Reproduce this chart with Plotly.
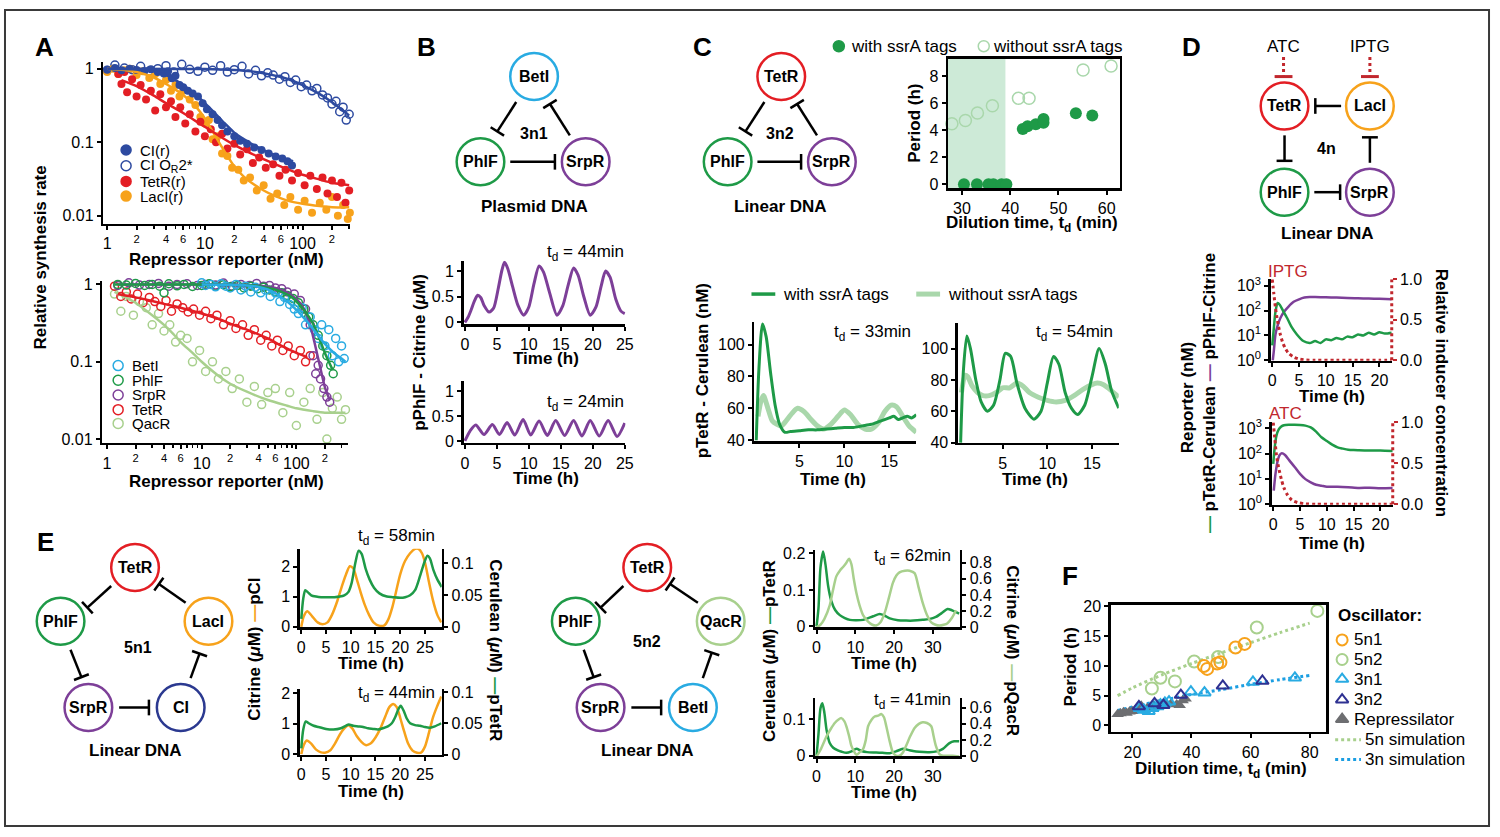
import math
import plotly.graph_objects as go

W, H = 1500, 837
FONT = "Liberation Sans, Arial, Helvetica, sans-serif"

RED = "#e31e24"; GREEN = "#1e9a47"; PURPLE = "#7d3f98"; LBLUE = "#29abe2"
ORANGE = "#f7a21b"; DBLUE = "#2d4aa0"; CINODE = "#2b3990"; LGREEN = "#a8d08d"
PALE = "#a9d7ab"; DRED = "#c1272d"; GRAY = "#6d6e71"; NAVY = "#2e3192"; SIMBLUE = "#1b9ee2"

# ---------------- Panel A data ----------------
a1_ci_x = [1.0, 1.2, 1.4, 1.7, 2.0, 2.4, 2.8, 3.3, 3.8, 4.2, 4.6, 5.0, 5.5, 6.0, 6.7, 7.5, 8.5, 9.5, 10.5, 12, 13.5, 15, 17, 20, 23, 27, 32, 38, 45, 53, 62, 70, 78]
a1_ci_y = [0.97, 1.02, 0.95, 1.0, 0.96, 0.93, 0.98, 0.9, 0.86, 0.92, 0.74, 0.8, 0.6, 0.56, 0.5, 0.46, 0.42, 0.34, 0.28, 0.24, 0.2, 0.17, 0.14, 0.12, 0.105, 0.095, 0.085, 0.078, 0.07, 0.064, 0.06, 0.055, 0.048]
a1_ci_fit_x = [1, 2, 3, 4, 5, 6, 8, 10, 13, 16, 20, 25, 30, 40, 50, 60, 80]
a1_ci_fit_y = [1.0, 0.98, 0.92, 0.82, 0.7, 0.6, 0.45, 0.34, 0.24, 0.18, 0.135, 0.11, 0.095, 0.078, 0.068, 0.062, 0.055]

a1_or_x = [1.0, 1.2, 1.5, 1.8, 2.2, 2.7, 3.3, 4.0, 4.8, 5.8, 7.0, 8.5, 10, 12, 14.5, 17, 20, 24, 28, 33, 38, 44, 50, 58, 66, 75, 85, 97, 110, 125, 140, 160, 180, 200, 220, 240, 260, 280, 300]
a1_or_y = [0.95, 1.12, 1.02, 0.97, 1.08, 0.93, 1.0, 1.1, 0.9, 1.15, 0.98, 0.92, 1.05, 0.95, 1.1, 0.9, 0.97, 1.08, 0.85, 0.95, 0.8, 0.88, 0.82, 0.72, 0.78, 0.65, 0.7, 0.57, 0.6, 0.5, 0.54, 0.44, 0.4, 0.33, 0.36, 0.26, 0.3, 0.2, 0.24]
a1_or_fit_x = [1, 10, 20, 30, 40, 60, 80, 100, 150, 200, 250, 300]
a1_or_fit_y = [1.0, 0.99, 0.96, 0.92, 0.87, 0.77, 0.68, 0.6, 0.45, 0.35, 0.28, 0.23]

a1_tet_x = [1.3, 1.4, 1.5, 1.6, 1.8, 2.0, 2.2, 2.5, 2.8, 3.1, 3.5, 4.0, 4.5, 5.0, 5.6, 6.3, 7.0, 8.0, 9.0, 10, 11.5, 13, 15, 17, 20, 23, 27, 31, 36, 42, 50, 58, 67, 78, 90, 105, 120, 140, 160, 180, 200, 225, 250, 275, 300]
a1_tet_y = [0.85, 0.62, 0.9, 0.48, 0.72, 0.42, 0.6, 0.38, 0.5, 0.27, 0.45, 0.3, 0.36, 0.22, 0.3, 0.18, 0.24, 0.14, 0.19, 0.12, 0.15, 0.1, 0.13, 0.082, 0.095, 0.068, 0.08, 0.052, 0.062, 0.045, 0.05, 0.035, 0.042, 0.03, 0.038, 0.026, 0.035, 0.023, 0.033, 0.02, 0.03, 0.018, 0.028, 0.015, 0.022]
a1_tet_fit_x = [1.4, 2, 3, 4, 6, 8, 11, 15, 20, 30, 45, 70, 100, 150, 200, 300]
a1_tet_fit_y = [0.7, 0.58, 0.43, 0.34, 0.25, 0.195, 0.15, 0.115, 0.092, 0.07, 0.055, 0.043, 0.036, 0.031, 0.028, 0.026]

a1_lac_x = [1.0, 1.15, 1.3, 1.5, 1.7, 2.0, 2.3, 2.7, 3.1, 3.5, 4.0, 4.5, 5.0, 5.5, 6.0, 7.0, 8.0, 9.0, 10, 11, 12, 13.5, 15, 17, 19, 22, 25, 29, 34, 40, 47, 55, 65, 75, 90, 105, 125, 150, 175, 200, 230, 260, 290, 305]
a1_lac_y = [0.9, 1.0, 0.85, 0.95, 1.0, 0.82, 0.92, 0.75, 0.85, 0.62, 0.7, 0.5, 0.6, 0.42, 0.5, 0.38, 0.32, 0.22, 0.18, 0.2, 0.11, 0.12, 0.07, 0.065, 0.045, 0.042, 0.03, 0.033, 0.022, 0.026, 0.017, 0.02, 0.014, 0.018, 0.012, 0.016, 0.011, 0.015, 0.012, 0.018, 0.01, 0.014, 0.009, 0.011]
a1_lac_fit_x = [1, 1.5, 2, 3, 4, 5, 6, 8, 10, 12, 15, 20, 25, 30, 40, 50, 70, 100, 150, 200, 300]
a1_lac_fit_y = [1.0, 0.96, 0.9, 0.76, 0.62, 0.52, 0.44, 0.31, 0.21, 0.14, 0.085, 0.047, 0.034, 0.028, 0.022, 0.019, 0.016, 0.0145, 0.0135, 0.013, 0.013]

a2_bet_x = [10, 11, 12.5, 14, 16, 18, 20, 23, 26, 29, 33, 37, 42, 47, 53, 60, 67, 75, 85, 95, 105, 115, 125, 140, 155, 170, 185, 200, 220, 240, 260, 280, 300, 320]
a2_bet_y = [1.05, 0.97, 1.0, 0.93, 1.02, 0.95, 0.9, 1.0, 0.85, 0.95, 0.8, 0.92, 0.78, 0.85, 0.7, 0.78, 0.6, 0.68, 0.55, 0.48, 0.42, 0.5, 0.3, 0.38, 0.26, 0.2, 0.3, 0.16, 0.26, 0.12, 0.2, 0.1, 0.16, 0.11]
a2_bet_fit_x = [10, 20, 30, 40, 50, 60, 80, 100, 130, 160, 200, 250, 300, 330]
a2_bet_fit_y = [1, 0.99, 0.97, 0.93, 0.86, 0.77, 0.6, 0.47, 0.33, 0.24, 0.17, 0.13, 0.11, 0.1]

a2_phl_x = [1.3, 1.6, 2.0, 2.5, 3.0, 3.6, 4.0, 4.5, 5.5, 6.5, 8, 10, 12, 14, 17, 20, 24, 28, 33, 39, 45, 52, 60, 70, 80, 92, 105, 120, 135, 150, 170, 190, 210, 230, 245]
a2_phl_y = [1.0, 0.98, 1.03, 0.97, 1.0, 0.95, 0.78, 1.02, 0.96, 1.0, 0.94, 0.97, 1.02, 0.95, 0.99, 0.93, 0.97, 0.9, 0.95, 0.88, 0.92, 0.85, 0.8, 0.78, 0.72, 0.66, 0.58, 0.48, 0.38, 0.3, 0.22, 0.16, 0.12, 0.09, 0.07]
a2_phl_fit_x = [1.2, 10, 30, 40, 55, 70, 90, 105, 125, 150, 175, 200, 240]
a2_phl_fit_y = [1, 1, 0.98, 0.95, 0.88, 0.8, 0.68, 0.57, 0.44, 0.31, 0.2, 0.13, 0.08]

a2_srp_x = [1.3, 1.7, 2.2, 2.8, 3.5, 4.5, 5.5, 7, 9, 11, 14, 17, 21, 26, 32, 38, 45, 52, 60, 70, 80, 95, 110, 125, 140, 150, 160, 170, 180, 195, 210, 225]
a2_srp_y = [0.97, 1.05, 0.98, 1.0, 1.03, 0.95, 1.0, 1.02, 0.97, 1.0, 0.98, 1.04, 0.95, 1.0, 0.97, 1.03, 0.95, 0.97, 0.9, 0.88, 0.8, 0.75, 0.62, 0.48, 0.3, 0.12, 0.07, 0.09, 0.06, 0.045, 0.035, 0.03]
a2_srp_fit_x = [1.3, 10, 30, 45, 60, 75, 90, 110, 125, 140, 155, 170, 185, 200, 225]
a2_srp_fit_y = [1, 1, 0.98, 0.95, 0.9, 0.82, 0.72, 0.57, 0.44, 0.3, 0.18, 0.11, 0.07, 0.047, 0.032]

a2_tet_x = [1.2, 1.4, 1.6, 1.8, 2.1, 2.4, 2.8, 3.2, 3.7, 4.2, 4.8, 5.5, 6.3, 7.2, 8.2, 9.5, 11, 12.5, 14.5, 17, 20, 23, 27, 31, 36, 42, 48, 55, 63, 72, 82, 95, 110, 125, 140]
a2_tet_y = [0.95, 0.7, 0.8, 0.65, 0.75, 0.58, 0.68, 0.6, 0.52, 0.62, 0.45, 0.56, 0.5, 0.44, 0.48, 0.4, 0.45, 0.36, 0.4, 0.3, 0.34, 0.27, 0.3, 0.22, 0.26, 0.19, 0.22, 0.16, 0.19, 0.14, 0.16, 0.12, 0.14, 0.1, 0.12]
a2_tet_fit_x = [1.3, 2, 3, 4, 6, 10, 15, 20, 30, 50, 70, 100, 130]
a2_tet_fit_y = [0.75, 0.68, 0.61, 0.56, 0.5, 0.42, 0.36, 0.31, 0.26, 0.2, 0.16, 0.13, 0.115]

a2_qac_x = [1.2, 1.4, 1.6, 1.9, 2.2, 2.6, 3.0, 3.5, 4.0, 4.6, 5.3, 6.0, 7.0, 8.0, 9.5, 11, 13, 15, 18, 21, 25, 30, 36, 43, 50, 60, 72, 85, 100, 120, 140, 165, 190, 210, 240, 270, 300, 330]
a2_qac_y = [0.75, 0.45, 0.7, 0.4, 0.6, 0.5, 0.3, 0.42, 0.25, 0.3, 0.18, 0.22, 0.2, 0.1, 0.14, 0.075, 0.1, 0.06, 0.075, 0.045, 0.06, 0.03, 0.048, 0.028, 0.04, 0.045, 0.022, 0.04, 0.015, 0.03, 0.045, 0.018, 0.04, 0.01, 0.025, 0.035, 0.018, 0.024]
a2_qac_fit_x = [1.2, 1.5, 2, 3, 4, 5, 6, 8, 10, 15, 20, 30, 50, 80, 100, 150, 200, 300, 330]
a2_qac_fit_y = [0.8, 0.7, 0.58, 0.4, 0.3, 0.23, 0.18, 0.13, 0.1, 0.066, 0.052, 0.041, 0.032, 0.027, 0.025, 0.023, 0.022, 0.022, 0.022]

a_xtick_vals = [1, 2, 4, 6, 10, 20, 40, 60, 100, 200]
a_xtick_text = ["1", "<sup>2</sup>", "<sup>4</sup>", "<sup>6</sup>", "10", "<sup>2</sup>", "<sup>4</sup>", "<sup>6</sup>", "100", "<sup>2</sup>"]
a_minor_vals = [3, 5, 7, 8, 9, 30, 50, 70, 80, 90, 300]

# ---------------- Panel B data ----------------
b44_t = [0, 0.5, 1, 1.5, 2, 2.5, 3, 3.8, 4.5, 5.2, 5.8, 6.2, 6.7, 7.5, 8.3, 9.2, 10, 10.8, 11.6, 12.3, 13.2, 14.4, 15.3, 16.2, 17, 17.7, 18.6, 19.6, 20.5, 21.3, 22, 22.7, 23.6, 24.4, 25]
b44_v = [0, 0.1, 0.25, 0.42, 0.53, 0.48, 0.33, 0.2, 0.28, 0.65, 1.02, 1.17, 1.05, 0.68, 0.33, 0.14, 0.3, 0.75, 1.1, 0.98, 0.6, 0.14, 0.32, 0.75, 1.06, 0.92, 0.5, 0.14, 0.3, 0.7, 1.0, 0.88, 0.45, 0.22, 0.17]
b24_t = [0, 0.8, 1.7, 3.0, 4.3, 5.4, 6.6, 7.8, 9.1, 10.3, 11.6, 12.9, 14.2, 15.6, 17.0, 18.3, 19.6, 21.0, 22.4, 23.8, 25]
b24_v = [0, 0.2, 0.32, 0.13, 0.33, 0.13, 0.37, 0.12, 0.43, 0.12, 0.4, 0.11, 0.41, 0.11, 0.41, 0.1, 0.41, 0.1, 0.41, 0.09, 0.36]

# ---------------- Panel C data ----------------
c_with_td = [30.4, 33.1, 35.5, 36.5, 38.2, 39.2, 42.6, 43.6, 45.3, 46.9, 46.9, 53.6, 57.0]
c_with_per = [0, 0, 0, 0, 0, 0, 4.1, 4.3, 4.45, 4.56, 4.85, 5.26, 5.1]
c_wo_td = [27.9, 30.7, 33.2, 36.3, 41.7, 43.9, 55.1, 60.9]
c_wo_per = [4.49, 4.73, 5.29, 5.82, 6.38, 6.38, 8.48, 8.78]
c_no_osc_limit = 39

c33_with_t = [0.2, 0.5, 0.9, 1.3, 1.8, 2.3, 2.8, 3.4, 4, 5, 6, 7, 8, 9, 10, 11, 12, 13, 14, 15, 15.5, 16, 16.5, 17, 17.5, 18]
c33_with_v = [40, 85, 113, 105, 82, 62, 50, 45, 45.5, 46, 46.5, 46.5, 47, 47.5, 48, 48, 49, 50, 52, 54, 55, 53, 54, 55, 54, 56]
c33_wo_t = [0.4, 0.7, 1.0, 1.5, 2.0, 2.5, 3.0, 3.5, 4.2, 4.8, 5.5, 6.3, 7.0, 7.7, 8.5, 9.3, 10.0, 10.7, 11.5, 12.3, 13.0, 13.8, 14.5, 15.2, 15.8, 16.5, 17.2, 18]
c33_wo_v = [55, 64, 68, 60, 52, 50, 49, 52, 57, 60, 58, 53, 49, 47, 50, 55, 59, 56, 50, 47, 47, 51, 58, 62, 61, 55, 49, 45]
c54_with_t = [0.3, 0.6, 1.0, 1.4, 2.0, 2.6, 3.3, 4.0, 4.7, 5.3, 5.9, 6.6, 7.5, 8.5, 9.3, 10.0, 10.7, 11.3, 12.0, 12.7, 13.4, 14.2, 15.0, 15.8, 16.5, 17.2, 18]
c54_with_v = [40, 85, 108, 100, 80, 66, 60, 64, 80, 97, 95, 78, 62, 55, 60, 78, 95, 90, 72, 62, 58, 64, 82, 100, 90, 73, 62]
c54_wo_t = [0.4, 0.8, 1.1, 1.6, 2.2, 2.8, 3.5, 4.3, 5.0, 5.8, 6.6, 7.3, 8.0, 9.0, 10.0, 11.0, 12.0, 13.0, 14.0, 15.0, 15.6, 16.3, 17.0, 18]
c54_wo_v = [72, 83, 82, 76, 72, 70, 70, 72, 75, 75, 78, 76, 72, 69, 67, 66, 67, 70, 74, 77, 78, 77, 74, 69]

# ---------------- Panel D data ----------------
d_ip_pur_t = [0.1, 0.3, 0.6, 1.0, 1.5, 2.2, 3.0, 4.0, 5.0, 6.0, 7.0, 8, 10, 12, 14, 16, 18, 20, 22.3]
d_ip_pur_v = [1.0, 2.5, 11, 25, 49, 89, 141, 224, 282, 331, 347, 347, 339, 331, 316, 309, 302, 295, 282]
d_ip_grn_t = [0, 0.3, 0.6, 1.0, 1.4, 2.0, 2.8, 3.6, 4.6, 5.8, 7, 8, 9, 10, 11, 12, 13, 14, 15, 16, 17, 18, 19, 20, 21, 22.3]
d_ip_grn_v = [4, 20, 90, 200, 170, 100, 49, 22, 11, 6, 5, 6, 5, 7, 6.5, 8, 7, 9, 8.5, 11, 10, 13, 11, 13.5, 12, 13]
d_ip_ind_t = [0, 0.3, 0.6, 1.0, 1.5, 2.0, 2.5, 3.0, 4.0, 5.0, 6.0, 8, 12, 16, 20, 22.3]
d_ip_ind_v = [1.0, 0.82, 0.65, 0.48, 0.32, 0.21, 0.14, 0.09, 0.04, 0.015, 0.005, 0, 0, 0, 0, 0]
d_atc_grn_t = [0, 0.3, 0.6, 1.0, 1.5, 2, 3, 4, 5, 6, 7, 8, 9, 10, 11, 12, 13, 14, 15, 16, 18, 20, 22.3]
d_atc_grn_v = [40, 200, 520, 900, 1200, 1350, 1400, 1400, 1380, 1300, 1100, 750, 450, 320, 230, 180, 160, 145, 140, 138, 135, 135, 130]
d_atc_pur_t = [0.1, 0.4, 0.8, 1.2, 1.6, 2.2, 3, 4, 5, 6, 7, 8, 9, 10, 12, 14, 16, 18, 20, 22.3]
d_atc_pur_v = [3.5, 15, 50, 90, 105, 90, 55, 30, 16, 10, 7.5, 6, 5.5, 5, 5, 4.8, 4.5, 4.6, 4.4, 4.5]
d_atc_ind_t = [0, 0.3, 0.6, 1.0, 1.5, 2.0, 2.7, 3.5, 4.6, 6, 8, 12, 16, 20, 22.3]
d_atc_ind_v = [1.0, 0.8, 0.6, 0.45, 0.31, 0.2, 0.11, 0.05, 0.02, 0.005, 0, 0, 0, 0, 0]

# ---------------- Panel E data ----------------
e58_cit_t = [0, 0.5, 1.2, 2.2, 3.3, 4.3, 5.3, 6.2, 7.3, 8.2, 9.0, 9.8, 10.5, 11.2, 12.0, 12.8, 13.7, 14.6, 15.7, 16.8, 17.6, 18.4, 19.2, 20.0, 21.0, 22.0, 23.0, 23.7, 24.4, 25.0, 25.8, 26.6, 27.5, 28.3]
e58_cit_v = [0, 0.35, 0.52, 0.35, 0.15, 0.09, 0.15, 0.4, 0.87, 1.35, 1.73, 2.02, 1.95, 1.6, 1.15, 0.75, 0.4, 0.15, 0.04, 0.05, 0.25, 0.65, 1.2, 1.75, 2.2, 2.45, 2.6, 2.6, 2.45, 2.15, 1.5, 0.9, 0.4, 0.15]
e58_cer_t = [0, 0.4, 0.8, 1.3, 2.0, 3.0, 4.0, 5.5, 6.7, 7.8, 8.7, 9.5, 10.2, 10.9, 11.6, 12.2, 13.0, 13.8, 14.7, 15.8, 17.3, 18.5, 20.0, 21.0, 22.0, 23.0, 24.0, 24.8, 25.5, 26.0, 26.7, 27.5, 28.4]
e58_cer_v = [0.013, 0.045, 0.058, 0.055, 0.05, 0.048, 0.047, 0.047, 0.047, 0.048, 0.05, 0.055, 0.07, 0.1, 0.12, 0.115, 0.092, 0.075, 0.062, 0.053, 0.048, 0.047, 0.046, 0.047, 0.05, 0.058, 0.08, 0.1, 0.112, 0.108, 0.09, 0.075, 0.063]
e44_cit_t = [0, 0.5, 1.1, 2.0, 3.0, 4.0, 4.8, 5.8, 6.8, 7.8, 8.7, 9.5, 10.3, 11.2, 12.2, 13.0, 14.0, 15.0, 16.0, 17.0, 17.8, 18.6, 19.3, 20.0, 20.8, 21.6, 22.5, 23.4, 24.2, 25.0, 25.8, 26.6, 27.4, 28.3]
e44_cit_v = [0, 0.3, 0.45, 0.35, 0.15, 0.06, 0.05, 0.12, 0.35, 0.65, 0.85, 0.95, 0.85, 0.6, 0.4, 0.3, 0.35, 0.55, 0.85, 1.25, 1.55, 1.65, 1.55, 1.2, 0.75, 0.35, 0.12, 0.05, 0.05, 0.25, 0.7, 1.2, 1.55, 1.9]
e44_cer_t = [0, 0.4, 0.9, 1.5, 2.5, 3.5, 5, 6.5, 8, 9, 9.6, 10.5, 11.5, 12.5, 13.5, 14.5, 15.5, 16.5, 17.5, 18.3, 19.0, 19.6, 20.1, 20.7, 21.3, 22.0, 23.0, 24.0, 25.0, 26.0, 27.0, 28.3]
e44_cer_v = [0.01, 0.04, 0.053, 0.05, 0.046, 0.044, 0.041, 0.04, 0.042, 0.046, 0.048, 0.046, 0.045, 0.044, 0.042, 0.041, 0.04, 0.042, 0.045, 0.05, 0.06, 0.072, 0.078, 0.07, 0.058, 0.05, 0.047, 0.046, 0.044, 0.043, 0.045, 0.05]

e62_cer_t = [0, 0.5, 1.0, 1.7, 2.3, 3.0, 3.8, 4.8, 6, 7.3, 8.6, 10, 12, 14.6, 16.3, 17.5, 18.9, 21, 23.1, 25, 27.4, 29, 30.8, 32.5, 33.8, 35, 36.8]
e62_cer_v = [0, 0.05, 0.16, 0.205, 0.17, 0.11, 0.07, 0.045, 0.031, 0.023, 0.018, 0.017, 0.018, 0.028, 0.034, 0.03, 0.022, 0.017, 0.016, 0.016, 0.018, 0.02, 0.026, 0.038, 0.048, 0.044, 0.035]
e62_cit_t = [0, 1, 2, 3.4, 4.2, 5.1, 6, 6.9, 7.7, 8.4, 9.0, 9.6, 10.3, 11.1, 12, 13.3, 14.4, 15.4, 16.5, 17.6, 18.7, 19.7, 20.6, 21.4, 22.8, 24, 25.3, 26.3, 27.4, 28.5, 29.6, 30.7, 31.7, 32.8, 33.8, 35, 36]
e62_cit_v = [0, 0.03, 0.1, 0.27, 0.45, 0.63, 0.7, 0.75, 0.8, 0.85, 0.78, 0.6, 0.42, 0.27, 0.15, 0.07, 0.03, 0.02, 0.06, 0.18, 0.37, 0.55, 0.64, 0.68, 0.7, 0.7, 0.67, 0.5, 0.3, 0.15, 0.06, 0.03, 0.02, 0.03, 0.05, 0.12, 0.21]
e41_cer_t = [0, 0.5, 1.0, 1.5, 2.0, 2.6, 3.4, 4.3, 5.5, 6.5, 7.7, 9, 10.3, 11.6, 13, 15.4, 17, 18.9, 20.5, 22.3, 24, 24.9, 26.5, 29.1, 31, 32.6, 34.3, 35.5, 36.8]
e41_cer_v = [0, 0.06, 0.13, 0.145, 0.12, 0.07, 0.035, 0.022, 0.015, 0.011, 0.008, 0.012, 0.019, 0.013, 0.01, 0.009, 0.008, 0.007, 0.012, 0.019, 0.015, 0.013, 0.011, 0.01, 0.012, 0.019, 0.035, 0.04, 0.04]
e41_cit_t = [0, 1, 2.6, 3.7, 4.7, 5.6, 6.4, 7.2, 7.7, 8.4, 9.0, 9.7, 10.3, 11.1, 12, 12.7, 13.3, 14.2, 15, 15.9, 16.7, 17.4, 18, 18.8, 19.7, 20.5, 21.4, 22.3, 23.1, 24.2, 25.3, 26.4, 27.4, 28.5, 29.6, 30.2, 30.8, 31.7, 32.6, 34, 35.1, 36.8]
e41_cit_v = [0, 0.08, 0.25, 0.34, 0.41, 0.45, 0.47, 0.43, 0.37, 0.25, 0.13, 0.06, 0.02, 0.05, 0.09, 0.2, 0.37, 0.45, 0.49, 0.5, 0.52, 0.48, 0.37, 0.2, 0.05, 0.01, 0.01, 0.05, 0.13, 0.25, 0.35, 0.4, 0.42, 0.41, 0.37, 0.25, 0.13, 0.03, 0.01, 0.01, 0.01, 0.0]

# ---------------- Panel F data ----------------
f_5n1_td = [44.2, 45.3, 48.7, 49.8, 54.9, 58.0]
f_5n1_per = [10.0, 9.5, 10.4, 10.6, 13.1, 13.7]
f_5n2_td = [26.6, 29.5, 34.4, 40.9, 49.0, 62.1, 82.6]
f_5n2_per = [6.2, 8.0, 7.4, 10.75, 11.5, 16.45, 19.25]
f_3n1_td = [22.5, 23.9, 25.5, 26.8, 28.5, 29.5, 31.0, 32.4, 39.8, 44.4, 60.8, 75.0]
f_3n1_per = [2.9, 2.6, 2.4, 2.9, 3.2, 3.5, 3.8, 4.0, 5.66, 5.5, 7.3, 8.0]
f_3n2_td = [22.2, 27.5, 30.5, 36.4, 50.6, 64.0]
f_3n2_per = [3.2, 3.7, 3.4, 5.1, 6.65, 7.47]
f_rep_td = [15, 16, 17, 18, 19, 20, 21, 22, 23, 25, 27, 29, 31, 33, 35, 36, 37, 38]
f_rep_per = [1.9, 2.0, 2.2, 2.1, 2.3, 2.4, 2.6, 2.8, 3.3, 2.9, 3.2, 3.5, 3.8, 3.6, 3.5, 3.4, 4.2, 4.5]
f_sim_td = [15, 20, 30, 40, 50, 60, 70, 80]
f_sim5_per = [5.0, 6.3, 8.5, 10.4, 12.2, 13.9, 15.6, 17.2]
f_sim3_per = [2.5, 3.1, 4.2, 5.2, 6.0, 6.9, 7.7, 8.4]

# =====================================================================
layout = dict(width=W, height=H, margin=dict(l=0, r=0, t=0, b=0, pad=0), paper_bgcolor="white",
              plot_bgcolor="rgba(0,0,0,0)", showlegend=False, autosize=False,
              font=dict(family=FONT, size=16, color="black"))


def xname(k): return "x" if k == 1 else f"x{k}"
def yname(k): return "y" if k == 1 else f"y{k}"
def xkey(k): return "xaxis" if k == 1 else f"xaxis{k}"
def ykey(k): return "yaxis" if k == 1 else f"yaxis{k}"


TF = dict(size=16, family=FONT, color="black")
BASE = dict(showline=True, linecolor="black", linewidth=2.5, ticks="outside", ticklen=4, tickwidth=2,
            tickcolor="black", showgrid=False, zeroline=False, tickfont=TF, fixedrange=True)


def ydom(top, bottom):
    return [1 - bottom / H, 1 - top / H]


def axes(k, left, right, top, bottom, xr, yr, xtv, ytv, xtt=None, ytt=None, xtype="linear", ytype="linear", mirror=False):
    xa = dict(BASE, domain=[left / W, right / W], range=xr, type=xtype, anchor=yname(k),
              tickmode="array", tickvals=xtv, ticktext=xtt if xtt else [str(v) for v in xtv])
    ya = dict(BASE, domain=ydom(top, bottom), range=yr, type=ytype, anchor=xname(k),
              tickmode="array", tickvals=ytv, ticktext=ytt if ytt else [str(v) for v in ytv])
    if mirror:
        xa["mirror"] = True
        ya["mirror"] = True
    layout[xkey(k)] = xa
    layout[ykey(k)] = ya
    return xa, ya


def yright(k, host, top, bottom, yr, tv, tt, tickcolor="black", showline=True):
    layout[ykey(k)] = dict(BASE, domain=ydom(top, bottom), range=yr, overlaying=yname(host), side="right",
                           anchor=xname(host), tickmode="array", tickvals=tv, ticktext=tt,
                           showline=showline, tickcolor=tickcolor)


fig = go.Figure()


def add(kx, ky, x, y, **kw):
    fig.add_trace(go.Scatter(x=x, y=y, xaxis=xname(kx), yaxis=yname(ky), hoverinfo="skip", showlegend=False, **kw))


def pts(kx, ky, x, y, color, symbol="circle", size=8, lw=1.5):
    if "open" in symbol:
        mk = dict(color=color, symbol=symbol, size=size, line=dict(width=lw, color=color))
    else:
        mk = dict(color=color, symbol=symbol, size=size, line=dict(width=0))
    add(kx, ky, x, y, mode="markers", marker=mk, cliponaxis=False)


def curve(kx, ky, x, y, color, width=3, dash="solid", spline=True):
    ln = dict(color=color, width=width, dash=dash)
    if spline:
        ln.update(shape="spline", smoothing=0.7)
    add(kx, ky, x, y, mode="lines", line=ln)


# ---------------- axes ----------------
ax1, _ = axes(1, 101, 350, 55, 220, [-0.04, 2.49], [-2.107, 0.093], a_xtick_vals, [0.01, 0.1, 1],
              xtt=a_xtick_text, ytt=["0.01", "0.1", "1"], xtype="log", ytype="log")
ax2, _ = axes(2, 100, 348, 279, 444, [-0.05, 2.55], [-2.05, 0.04], a_xtick_vals, [0.01, 0.1, 1],
              xtt=a_xtick_text, ytt=["0.01", "0.1", "1"], xtype="log", ytype="log")
for a in (ax1, ax2):
    a["minor"] = dict(tickvals=a_minor_vals, ticklen=3, tickwidth=1.5, tickcolor="black", ticks="outside")

axes(3, 464, 627, 258, 323, [-0.2, 25.1], [-0.04, 1.2], [0, 5, 10, 15, 20, 25], [0, 0.5, 1])
axes(4, 464, 627, 381, 444, [-0.2, 25.1], [-0.04, 1.2], [0, 5, 10, 15, 20, 25], [0, 0.5, 1])
axes(5, 952, 1125, 52, 184, [27.1, 62.7], [-0.3, 9.3], [30, 40, 50, 60], [0, 2, 4, 6, 8], mirror=True)
axes(6, 757, 920, 320, 442, [0, 18], [39.5, 114.5], [5, 10, 15], [40, 60, 80, 100])
axes(7, 962, 1124, 322, 444, [0, 18], [39.8, 116], [5, 10, 15], [40, 60, 80, 100])
pw = ["10<sup>0</sup>", "10<sup>1</sup>", "10<sup>2</sup>", "10<sup>3</sup>"]
axes(8, 1277, 1399, 277, 360, [-0.3, 22.3], [-0.01, 3.25], [0, 5, 10, 15, 20], [1, 10, 100, 1000], ytt=pw, ytype="log")
yright(9, 8, 277, 360, [-0.005, 1.0], [0, 0.5, 1.0], ["0.0", "0.5", "1.0"], tickcolor=DRED, showline=False)
axes(10, 1278, 1400, 423, 507, [-0.3, 22.3], [-0.01, 3.24], [0, 5, 10, 15, 20], [1, 10, 100, 1000], ytt=pw, ytype="log")
yright(11, 10, 423, 507, [-0.005, 1.0], [0, 0.5, 1.0], ["0.0", "0.5", "1.0"], tickcolor=DRED, showline=False)
axes(12, 299, 442, 552, 632, [-0.3, 28.4], [-0.01, 2.6], [0, 5, 10, 15, 20, 25], [0, 1, 2])
yright(13, 12, 552, 632, [0, 0.123], [0, 0.05, 0.1], ["0", "0.05", "0.1"])
axes(14, 299, 442, 695, 762, [-0.3, 28.4], [-0.01, 2.15], [0, 5, 10, 15, 20, 25], [0, 1, 2])
yright(15, 14, 695, 762, [0, 0.105], [0, 0.05, 0.1], ["0", "0.05", "0.1"])
axes(16, 818, 964, 553, 632, [-0.4, 37], [-0.002, 0.21], [0, 10, 20, 30], [0, 0.1, 0.2])
yright(17, 16, 553, 632, [0, 0.96], [0, 0.2, 0.4, 0.6, 0.8], ["0", "0.2", "0.4", "0.6", "0.8"])
axes(18, 818, 964, 704, 764, [-0.4, 37], [-0.002, 0.16], [0, 10, 20, 30], [0, 0.1])
yright(19, 18, 704, 764, [0, 0.72], [0, 0.2, 0.4, 0.6], ["0", "0.2", "0.4", "0.6"])
axes(20, 1116, 1333, 609, 739, [12.7, 85.6], [-1.1, 20.3], [20, 40, 60, 80], [0, 5, 10, 15, 20], mirror=True)

# overlay pixel axis (for diagrams, legends and text)
layout["xaxis30"] = dict(domain=[0, 1], range=[0, W], visible=False, anchor="y30", fixedrange=True)
layout["yaxis30"] = dict(domain=[0, 1], range=[H, 0], visible=False, anchor="x30", fixedrange=True)

# ---------------- traces: A ----------------
pts(1, 1, a1_or_x, a1_or_y, DBLUE, "circle-open", 8)
pts(1, 1, a1_lac_x, a1_lac_y, ORANGE, "circle", 8)
pts(1, 1, a1_tet_x, a1_tet_y, RED, "circle", 8)
pts(1, 1, a1_ci_x, a1_ci_y, DBLUE, "circle", 8)
curve(1, 1, a1_or_fit_x, a1_or_fit_y, DBLUE, 2.5)
curve(1, 1, a1_lac_fit_x, a1_lac_fit_y, ORANGE, 2.5)
curve(1, 1, a1_tet_fit_x, a1_tet_fit_y, RED, 2.5)
curve(1, 1, a1_ci_fit_x, a1_ci_fit_y, DBLUE, 2.5)

pts(2, 2, a2_qac_x, a2_qac_y, LGREEN, "circle-open", 8)
pts(2, 2, a2_tet_x, a2_tet_y, RED, "circle-open", 8)
pts(2, 2, a2_srp_x, a2_srp_y, PURPLE, "circle-open", 8)
pts(2, 2, a2_phl_x, a2_phl_y, GREEN, "circle-open", 8)
pts(2, 2, a2_bet_x, a2_bet_y, LBLUE, "circle-open", 8)
curve(2, 2, a2_qac_fit_x, a2_qac_fit_y, LGREEN, 2.5)
curve(2, 2, a2_tet_fit_x, a2_tet_fit_y, RED, 2.5)
curve(2, 2, a2_srp_fit_x, a2_srp_fit_y, PURPLE, 2.5)
curve(2, 2, a2_phl_fit_x, a2_phl_fit_y, GREEN, 2.5)
curve(2, 2, a2_bet_fit_x, a2_bet_fit_y, LBLUE, 2.5)

# ---------------- traces: B ----------------
curve(3, 3, b44_t, b44_v, PURPLE, 3)
curve(4, 4, b24_t, b24_v, PURPLE, 3)

# ---------------- traces: C ----------------
pts(5, 5, c_wo_td, c_wo_per, PALE, "circle-open", 12, 1.5)
pts(5, 5, c_with_td, c_with_per, GREEN, "circle", 12)
curve(6, 6, c33_wo_t, c33_wo_v, PALE, 5)
curve(6, 6, c33_with_t, c33_with_v, GREEN, 3)
curve(7, 7, c54_wo_t, c54_wo_v, PALE, 5)
curve(7, 7, c54_with_t, c54_with_v, GREEN, 3)

# ---------------- traces: D ----------------
curve(8, 9, d_ip_ind_t, d_ip_ind_v, DRED, 3, "dot")
curve(8, 8, d_ip_pur_t, d_ip_pur_v, PURPLE, 2.5)
curve(8, 8, d_ip_grn_t, d_ip_grn_v, GREEN, 2.5)
curve(10, 11, d_atc_ind_t, d_atc_ind_v, DRED, 3, "dot")
curve(10, 10, d_atc_grn_t, d_atc_grn_v, GREEN, 2.5)
curve(10, 10, d_atc_pur_t, d_atc_pur_v, PURPLE, 2.5)

# ---------------- traces: E ----------------
curve(12, 12, e58_cit_t, e58_cit_v, ORANGE, 2.5)
curve(12, 13, e58_cer_t, e58_cer_v, GREEN, 2.5)
curve(14, 14, e44_cit_t, e44_cit_v, ORANGE, 2.5)
curve(14, 15, e44_cer_t, e44_cer_v, GREEN, 2.5)
curve(16, 17, e62_cit_t, e62_cit_v, LGREEN, 2.5)
curve(16, 16, e62_cer_t, e62_cer_v, GREEN, 2.5)
curve(18, 19, e41_cit_t, e41_cit_v, LGREEN, 2.5)
curve(18, 18, e41_cer_t, e41_cer_v, GREEN, 2.5)

# ---------------- traces: F ----------------
curve(20, 20, f_sim_td, f_sim5_per, LGREEN, 3, "dot")
curve(20, 20, f_sim_td, f_sim3_per, SIMBLUE, 3, "dot")
pts(20, 20, f_rep_td, f_rep_per, GRAY, "triangle-up", 11)
pts(20, 20, f_3n1_td, f_3n1_per, LBLUE, "triangle-up-open", 11, 2)
pts(20, 20, f_3n2_td, f_3n2_per, NAVY, "triangle-up-open", 11, 2)
pts(20, 20, f_5n2_td, f_5n2_per, LGREEN, "circle-open", 12, 2)
pts(20, 20, f_5n1_td, f_5n1_per, ORANGE, "circle-open", 12, 2)

# ---------------- legend markers (overlay) ----------------
def lmark(xs, ys, colors, symbols, size=10, lw=1.5):
    add(30, 30, xs, ys, mode="markers",
        marker=dict(color=colors, symbol=symbols, size=size, line=dict(width=lw, color=colors)))


lmark([124] * 4, [145, 161, 177, 192], [DBLUE, DBLUE, RED, ORANGE], ["circle", "circle-open", "circle", "circle"])
lmark([116] * 5, [365, 380, 395, 410, 424], [LBLUE, GREEN, PURPLE, RED, LGREEN], ["circle-open"] * 5)
lmark([842, 988], [39, 39], [GREEN, PALE], ["circle", "circle-open"], size=11)
lmark([1349] * 5, [645, 665, 685, 706, 726], [ORANGE, LGREEN, LBLUE, NAVY, GRAY],
      ["circle-open", "circle-open", "triangle-up-open", "triangle-up-open", "triangle-up"], size=11, lw=2)

# ---------------- shapes & annotations ----------------
shapes = []
anns = []


def line(x0, y0, x1, y1, color="black", w=2.5, dash="solid"):
    shapes.append(dict(type="line", xref="x30", yref="y30", x0=x0, y0=y0, x1=x1, y1=y1,
                       line=dict(color=color, width=w, dash=dash), layer="above"))


def circle(cx, cy, color, r=24, w=2.5):
    shapes.append(dict(type="circle", xref="x30", yref="y30", x0=cx - r, x1=cx + r, y0=cy - r, y1=cy + r,
                       line=dict(color=color, width=w), fillcolor="rgba(0,0,0,0)", layer="above"))


def inhib(x0, y0, x1, y1, color="black", bar=8):
    line(x0, y0, x1, y1, color)
    dx, dy = x1 - x0, y1 - y0
    L = math.hypot(dx, dy)
    px, py = -dy / L, dx / L
    line(x1 - px * bar, y1 - py * bar, x1 + px * bar, y1 + py * bar, color)


def txt(x, y, s, size=16, bold=False, angle=0, color="black", xa="center", ya="middle"):
    anns.append(dict(x=x, y=y, xref="x30", yref="y30", text=(f"<b>{s}</b>" if bold else s), showarrow=False,
                     font=dict(size=size, family=FONT, color=color), textangle=angle, xanchor=xa, yanchor=ya))


def node(cx, cy, label, color):
    circle(cx, cy, color)
    txt(cx, cy, label, 16, True)


# frame
shapes.append(dict(type="rect", xref="x30", yref="y30", x0=2, y0=2, x1=1497, y1=835,
                   line=dict(color="#3a3a3a", width=2), fillcolor="rgba(0,0,0,0)", layer="above"))

# panel letters
for L_, x_, y_ in [("A", 42, 40), ("B", 427, 40), ("C", 705, 40), ("D", 1197, 40), ("E", 43, 545), ("F", 1075, 580)]:
    txt(x_, y_, L_, 26, True)

# --- A texts ---
txt(136, 145, "CI(r)", 15, xa="left")
txt(136, 161, "CI O<sub>R</sub>2*", 15, xa="left", ya="middle")
txt(136, 177, "TetR(r)", 15, xa="left")
txt(136, 192, "LacI(r)", 15, xa="left")
for s, y_ in zip(["BetI", "PhlF", "SrpR", "TetR", "QacR"], [365, 380, 395, 410, 424]):
    txt(128, y_, s, 15, xa="left")
txt(225, 257, "Repressor reporter (nM)", 17, True)
txt(225, 483, "Repressor reporter (nM)", 17, True)
txt(38, 255, "Relative synthesis rate", 17, True, angle=-90)

# --- B ---
node(535, 70, "BetI", LBLUE)
node(481, 157, "PhlF", GREEN)
node(587, 157, "SrpR", PURPLE)
inhib(517, 96, 498, 126)
inhib(571, 130, 551, 98)
inhib(511, 157, 556, 157)
txt(535, 128, "3n1", 16, True)
txt(535, 203, "Plasmid DNA", 17, True)
txt(628, 250, "t<sub>d</sub> = 44min", 17, xa="right")
txt(628, 403, "t<sub>d</sub> = 24min", 17, xa="right")
txt(547, 358, "Time (h)", 17, True)
txt(547, 480, "Time (h)", 17, True)
txt(420, 351, "pPhlF - Citrine (<i>μ</i>M)", 17, True, angle=-90)

# --- C ---
node(784, 70, "TetR", RED)
node(730, 157, "PhlF", GREEN)
node(835, 157, "SrpR", PURPLE)
inhib(767, 96, 748, 126)
inhib(820, 130, 800, 98)
inhib(760, 157, 804, 157)
txt(783, 128, "3n2", 16, True)
txt(783, 203, "Linear DNA", 17, True)
txt(852, 39, "with ssrA tags", 17, xa="left")
txt(995, 39, "without ssrA tags", 17, xa="left")
txt(918, 118, "Period (h)", 17, True, angle=-90)
txt(1037, 220, "Dilution time, t<sub>d</sub> (min)", 17, True)
shapes.append(dict(type="rect", xref="x5", yref="y5 domain", x0=27.1, x1=c_no_osc_limit, y0=0, y1=1,
                   fillcolor="#cdead7", line=dict(width=0), layer="below"))
line(754, 292, 778, 292, GREEN, 3.5)
txt(784, 292, "with ssrA tags", 17, xa="left")
line(920, 292, 944, 292, PALE, 5)
txt(950, 292, "without ssrA tags", 17, xa="left")
txt(917, 332, "t<sub>d</sub> = 33min", 17, xa="right")
txt(1120, 332, "t<sub>d</sub> = 54min", 17, xa="right")
txt(836, 481, "Time (h)", 17, True)
txt(1040, 481, "Time (h)", 17, True)
txt(705, 370, "pTetR - Cerulean (nM)", 17, True, angle=-90)

# --- D ---
txt(1290, 39, "ATC", 17)
txt(1377, 39, "IPTG", 17)
for xx in (1290, 1377):
    line(xx, 50, xx, 69, DRED, 3, "dot")
    line(xx - 9, 70, xx + 9, 70, DRED, 3)
node(1291, 100, "TetR", RED)
node(1377, 100, "LacI", ORANGE)
node(1291, 188, "PhlF", GREEN)
node(1377, 188, "SrpR", PURPLE)
inhib(1348, 100, 1322, 100)
inhib(1291, 130, 1291, 156)
inhib(1377, 158, 1377, 132)
inhib(1321, 188, 1347, 188)
txt(1333, 143, "4n", 16, True)
txt(1334, 230, "Linear DNA", 17, True)
txt(1294, 269, "IPTG", 17, color=DRED)
txt(1292, 414, "ATC", 17, color=DRED)
txt(1339, 397, "Time (h)", 17, True)
txt(1339, 547, "Time (h)", 17, True)
txt(1194, 398, "Reporter (nM)", 17, True, angle=-90)
txt(1215, 393, f"<span style='color:{GREEN}'>—</span> pTetR-Cerulean <span style='color:{PURPLE}'>—</span> pPhlF-Citrine",
    17, True, angle=-90)
txt(1450, 393, "Relative inducer concentration", 17, True, angle=90)
for hx, hy in (("x8", "y9"), ("x10", "y11")):
    shapes.append(dict(type="line", xref=hx + " domain", yref=hy, x0=1, x1=1, y0=0, y1=1,
                       line=dict(color=DRED, width=3, dash="dot"), layer="above"))

# --- E (5n1) ---
node(133, 571, "TetR", RED)
node(58, 626, "PhlF", GREEN)
node(207, 626, "LacI", ORANGE)
node(86, 714, "SrpR", PURPLE)
node(179, 714, "CI", CINODE)
inhib(109, 590, 85, 612)
inhib(184, 607, 157, 588)
inhib(68, 655, 79, 683)
inhib(189, 684, 198, 659)
inhib(117, 714, 147, 714)
txt(136, 653, "5n1", 16, True)
txt(133, 758, "Linear DNA", 17, True)
txt(437, 540, "t<sub>d</sub> = 58min", 17, xa="right")
txt(437, 700, "t<sub>d</sub> = 44min", 17, xa="right")
txt(371, 669, "Time (h)", 17, True)
txt(371, 800, "Time (h)", 17, True)
txt(254, 655, f"Citrine (<i>μ</i>M) <span style='color:{ORANGE}'>—</span>pCI", 17, True, angle=-90)
txt(496, 656, f"Cerulean (<i>μ</i>M) <span style='color:{GREEN}'>—</span>pTetR", 17, True, angle=90)

# --- E (5n2) ---
node(649, 571, "TetR", RED)
node(577, 626, "PhlF", GREEN)
node(723, 626, "QacR", LGREEN)
node(602, 714, "SrpR", PURPLE)
node(695, 714, "BetI", LBLUE)
inhib(625, 590, 602, 612)
inhib(700, 607, 672, 588)
inhib(585, 655, 595, 683)
inhib(705, 684, 714, 658)
inhib(633, 714, 663, 714)
txt(649, 647, "5n2", 16, True)
txt(649, 758, "Linear DNA", 17, True)
txt(957, 560, "t<sub>d</sub> = 62min", 17, xa="right")
txt(957, 707, "t<sub>d</sub> = 41min", 17, xa="right")
txt(888, 669, "Time (h)", 17, True)
txt(888, 801, "Time (h)", 17, True)
txt(772, 656, f"Cerulean (<i>μ</i>M) <span style='color:{GREEN}'>—</span>pTetR", 17, True, angle=-90)
txt(1017, 656, f"Citrine (<i>μ</i>M) <span style='color:{LGREEN}'>—</span>pQacR", 17, True, angle=90)

# --- F ---
txt(1343, 620, "Oscillator:", 17, True, xa="left")
for s, y_ in zip(["5n1", "5n2", "3n1", "3n2", "Repressilator"], [645, 665, 685, 706, 726]):
    txt(1359, y_, s, 17, xa="left")
line(1342, 747, 1368, 747, LGREEN, 3, "dot")
txt(1370, 747, "5n simulation", 17, xa="left")
line(1342, 767, 1368, 767, SIMBLUE, 3, "dot")
txt(1370, 767, "3n simulation", 17, xa="left")
txt(1227, 778, "Dilution time, t<sub>d</sub> (min)", 17, True)
txt(1075, 673, "Period (h)", 17, True, angle=-90)

layout["shapes"] = shapes
layout["annotations"] = anns
fig.update_layout(**layout)
fig.write_html("out.html",
               config={"displayModeBar": False, "staticPlot": True},
               post_script="var g=document.getElementById('{plot_id}');"
                           "g.style.position='fixed';g.style.left='0px';g.style.top='0px';"
                           "document.documentElement.style.margin='0';document.body.style.margin='0';"
                           "document.body.style.overflow='hidden';")
